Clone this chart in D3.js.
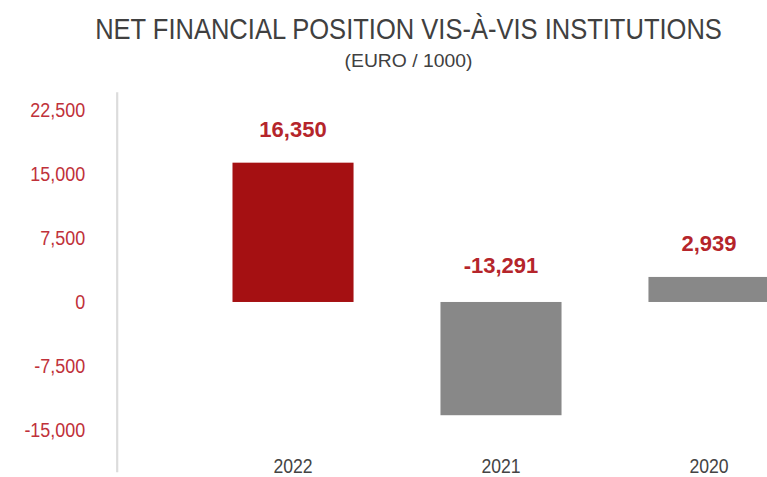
<!DOCTYPE html>
<html>
<head>
<meta charset="utf-8">
<script src="https://cdn.jsdelivr.net/npm/d3@7"></script>
<style>
  html, body { margin: 0; padding: 0; background: #fff; }
  svg { display: block; }
</style>
</head>
<body>
<svg id="chart" width="767" height="477"></svg>
<script>
const categories = ["2022", "2021", "2020"];
const values = [16350, -13291, 2939];
const valueLabels = ["16,350", "-13,291", "2,939"];
const tickValues = [-15000, -7500, 0, 7500, 15000, 22500];
const tickLabels = ["-15,000", "-7,500", "0", "7,500", "15,000", "22,500"];
const barColors = ["#A51012", "#888888", "#888888"];
const titleText = "NET FINANCIAL POSITION VIS-À-VIS INSTITUTIONS";
const subtitleText = "(EURO / 1000)";

const font = "'Liberation Sans', Arial, sans-serif";
const svg = d3.select("#chart");

const y = d3.scaleLinear().domain([-19920, 24680]).range([471.7, 91.7]);
const x = d3.scaleBand().domain(categories).range([128.5, 873.5]).paddingInner(0.418).paddingOuter(0.5);

// condensed text helper: centered text squeezed horizontally to a target width
function condensedCentered(cx, cy, str, size, target, color) {
  const g = svg.append("g").attr("transform", `translate(${cx},${cy})`);
  const t = g.append("text")
    .attr("text-anchor", "middle")
    .attr("font-family", font).attr("font-size", size)
    .attr("fill", color)
    .text(str);
  const w = t.node().getComputedTextLength();
  g.attr("transform", `translate(${cx},${cy}) scale(${target / w},1)`);
  return t;
}

// title
condensedCentered(408.5, 39, titleText, 30, 627, "#404040");
condensedCentered(408.5, 67, subtitleText, 19, 128, "#404040");

// y axis
const sxTick = 0.875;
const yAxis = d3.axisLeft(y)
  .tickValues(tickValues)
  .tickFormat((d, i) => tickLabels[i])
  .tickSize(0).tickPadding(31);
const gy = svg.append("g").attr("transform", "translate(116.7,0)").call(yAxis);
gy.select(".domain").attr("stroke", "#dcdcdc").attr("stroke-width", 2.2);
gy.selectAll(".tick text")
  .attr("font-family", font).attr("font-size", 20.5)
  .attr("fill", "#C0313A")
  .attr("x", -31.5 / sxTick)
  .attr("transform", `scale(${sxTick},1)`);

// bars
svg.append("g").selectAll("rect")
  .data(values)
  .join("rect")
  .attr("x", (d, i) => x(categories[i]))
  .attr("width", x.bandwidth())
  .attr("y", d => y(Math.max(d, 0)))
  .attr("height", d => Math.abs(y(d) - y(0)))
  .attr("fill", (d, i) => barColors[i]);

// value labels
svg.append("g").selectAll("text")
  .data(values)
  .join("text")
  .attr("x", (d, i) => x(categories[i]) + x.bandwidth() / 2)
  .attr("y", d => d >= 0 ? y(d) - 25.5 : y(0) - 29.3)
  .attr("text-anchor", "middle")
  .attr("font-family", font)
  .attr("font-weight", "bold").attr("font-size", 22)
  .attr("fill", "#B5252B")
  .text((d, i) => valueLabels[i]);

// x labels
const sxCat = 0.84;
const xAxis = d3.axisBottom(x).tickSize(0).tickPadding(0);
const gx = svg.append("g").attr("transform", "translate(0,472.7)").call(xAxis);
gx.select(".domain").remove();
gx.selectAll(".tick text")
  .attr("dy", 0).attr("y", 0)
  .attr("font-family", font).attr("font-size", 21)
  .attr("fill", "#444444")
  .attr("transform", `scale(${sxCat},1)`);
</script>
</body>
</html>
